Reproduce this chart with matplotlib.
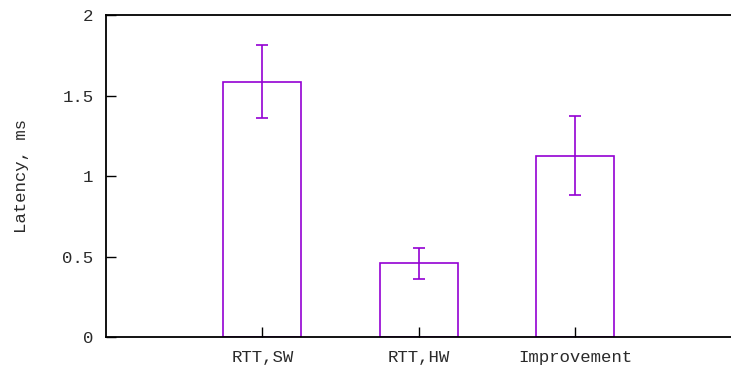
import matplotlib
matplotlib.use("Agg")
import matplotlib.pyplot as plt

categories = ["RTT,SW", "RTT,HW", "Improvement"]
values = [1.586, 0.459, 1.127]
err_low = [1.363, 0.364, 0.883]
err_high = [1.814, 0.552, 1.371]

plt.rcParams['font.family'] = ['Liberation Mono', 'DejaVu Sans Mono']
color = '#9400D3'

fig = plt.figure(figsize=(7.31, 3.70), dpi=100)
ax = fig.add_axes([106/731, 1 - 337.3/370, 625.5/731, 322.3/370])

x = [1, 2, 3]
yerr = [[v - lo for v, lo in zip(values, err_low)], [hi - v for v, hi in zip(values, err_high)]]
ax.bar(x, values, width=0.5, fill=False, edgecolor=color, linewidth=1.2)
ax.errorbar(x, values, yerr=yerr, fmt='none', ecolor=color, elinewidth=1.2, capsize=4, capthick=1.2)

ax.set_xlim(0, 4)
ax.set_ylim(0, 2)
ax.set_xticks(x)
ax.set_xticklabels(categories)
ax.set_yticks([0, 0.5, 1, 1.5, 2])
ax.set_yticklabels(["0", "0.5", "1", "1.5", "2"])
ax.tick_params(direction='in', length=7, width=1, labelsize=12.5, colors='black')
ax.tick_params(axis='y', right=False, pad=9)
ax.tick_params(axis='x', top=False, pad=9)
for s in ax.spines.values():
    s.set_linewidth(1.3)
ax.set_ylabel("Latency, ms", fontsize=12.5, labelpad=24)
for lbl in ax.get_xticklabels() + ax.get_yticklabels():
    lbl.set_color('#2a2a2a')
ax.yaxis.label.set_color('#2a2a2a')

fig.savefig("out.png", dpi=100)
